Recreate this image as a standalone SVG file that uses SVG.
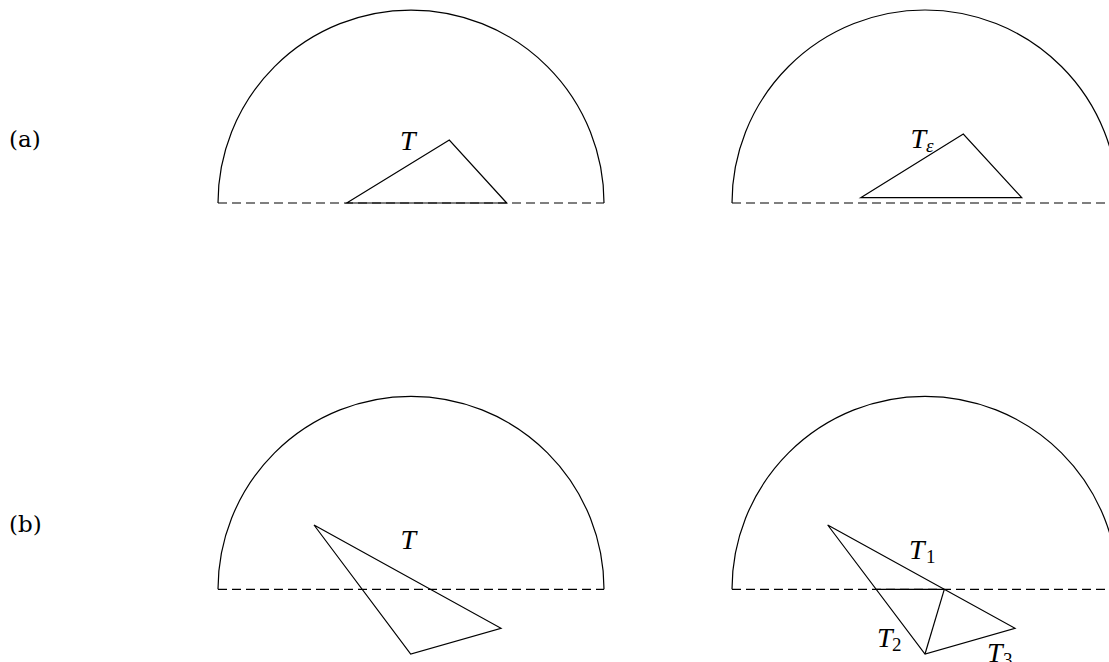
<svg xmlns="http://www.w3.org/2000/svg" width="1109" height="662" viewBox="0 0 1109 662">
  <style>
    .ln { fill: none; stroke: #000; stroke-width: 1.2; stroke-linejoin: miter; }
    .dash { fill: none; stroke: #000; stroke-width: 1.2; stroke-dasharray: 9 5; }
    .lbl { font-family: "DejaVu Serif", serif; font-size: 23px; fill: #000; }
    .math { font-family: "Liberation Serif", "DejaVu Serif", serif; font-style: italic; font-size: 28px; fill: #000; }
    .sub { font-family: "Liberation Serif", "DejaVu Serif", serif; font-size: 19px; fill: #000; }
    .subi { font-family: "Liberation Serif", "DejaVu Serif", serif; font-style: italic; font-size: 19px; fill: #000; }
  </style>
  <rect width="1109" height="662" fill="#fff"/>
  <g id="label-a"><text class="lbl" x="9" y="147">(a)</text></g>
  <g id="label-b"><text class="lbl" x="9" y="532">(b)</text></g>

  <g id="panel-a-left">
    <path class="ln" d="M218 203 A193 193 0 0 1 604 203"/>
    <line class="dash" x1="218" y1="203" x2="604" y2="203"/>
    <polygon id="tri-a-left" class="ln" points="346.7,203 449.3,140 506.7,203"/>
    <text class="math" x="400" y="149.5">T</text>
  </g>

  <g id="panel-a-right">
    <path class="ln" d="M732 203 A193 193 0 0 1 1118 203"/>
    <line class="dash" x1="732" y1="203" x2="1118" y2="203"/>
    <polygon id="tri-a-right" class="ln" points="860.7,197.7 963.3,134 1021.7,197.7"/>
    <text class="math" x="910.5" y="147.5">T</text>
    <text class="subi" x="926" y="152">ε</text>
  </g>

  <g id="panel-b-left">
    <path class="ln" d="M218 589.3 A193 193 0 0 1 604 589.3"/>
    <line class="dash" x1="218" y1="589.3" x2="604" y2="589.3"/>
    <polygon id="tri-b-left" class="ln" points="314,525 501,628.3 410.7,654"/>
    <text class="math" x="400.5" y="548.5">T</text>
  </g>

  <g id="panel-b-right">
    <path class="ln" d="M732 589.3 A193 193 0 0 1 1118 589.3"/>
    <line class="dash" x1="732" y1="589.3" x2="1118" y2="589.3"/>
    <polygon id="tri-b-right" class="ln" points="827.7,525 1015,628.3 925,654"/>
    <line class="ln" x1="876.2" y1="589.3" x2="944.3" y2="589.3"/>
    <line class="ln" x1="944.3" y1="589.3" x2="925" y2="654"/>
    <text class="math" x="909" y="559">T</text>
    <text class="sub" x="926" y="563">1</text>
    <text class="math" x="877" y="647">T</text>
    <text class="sub" x="892" y="651">2</text>
    <text class="math" x="987" y="661.6">T</text>
    <text class="sub" x="1003" y="666">3</text>
  </g>
</svg>
